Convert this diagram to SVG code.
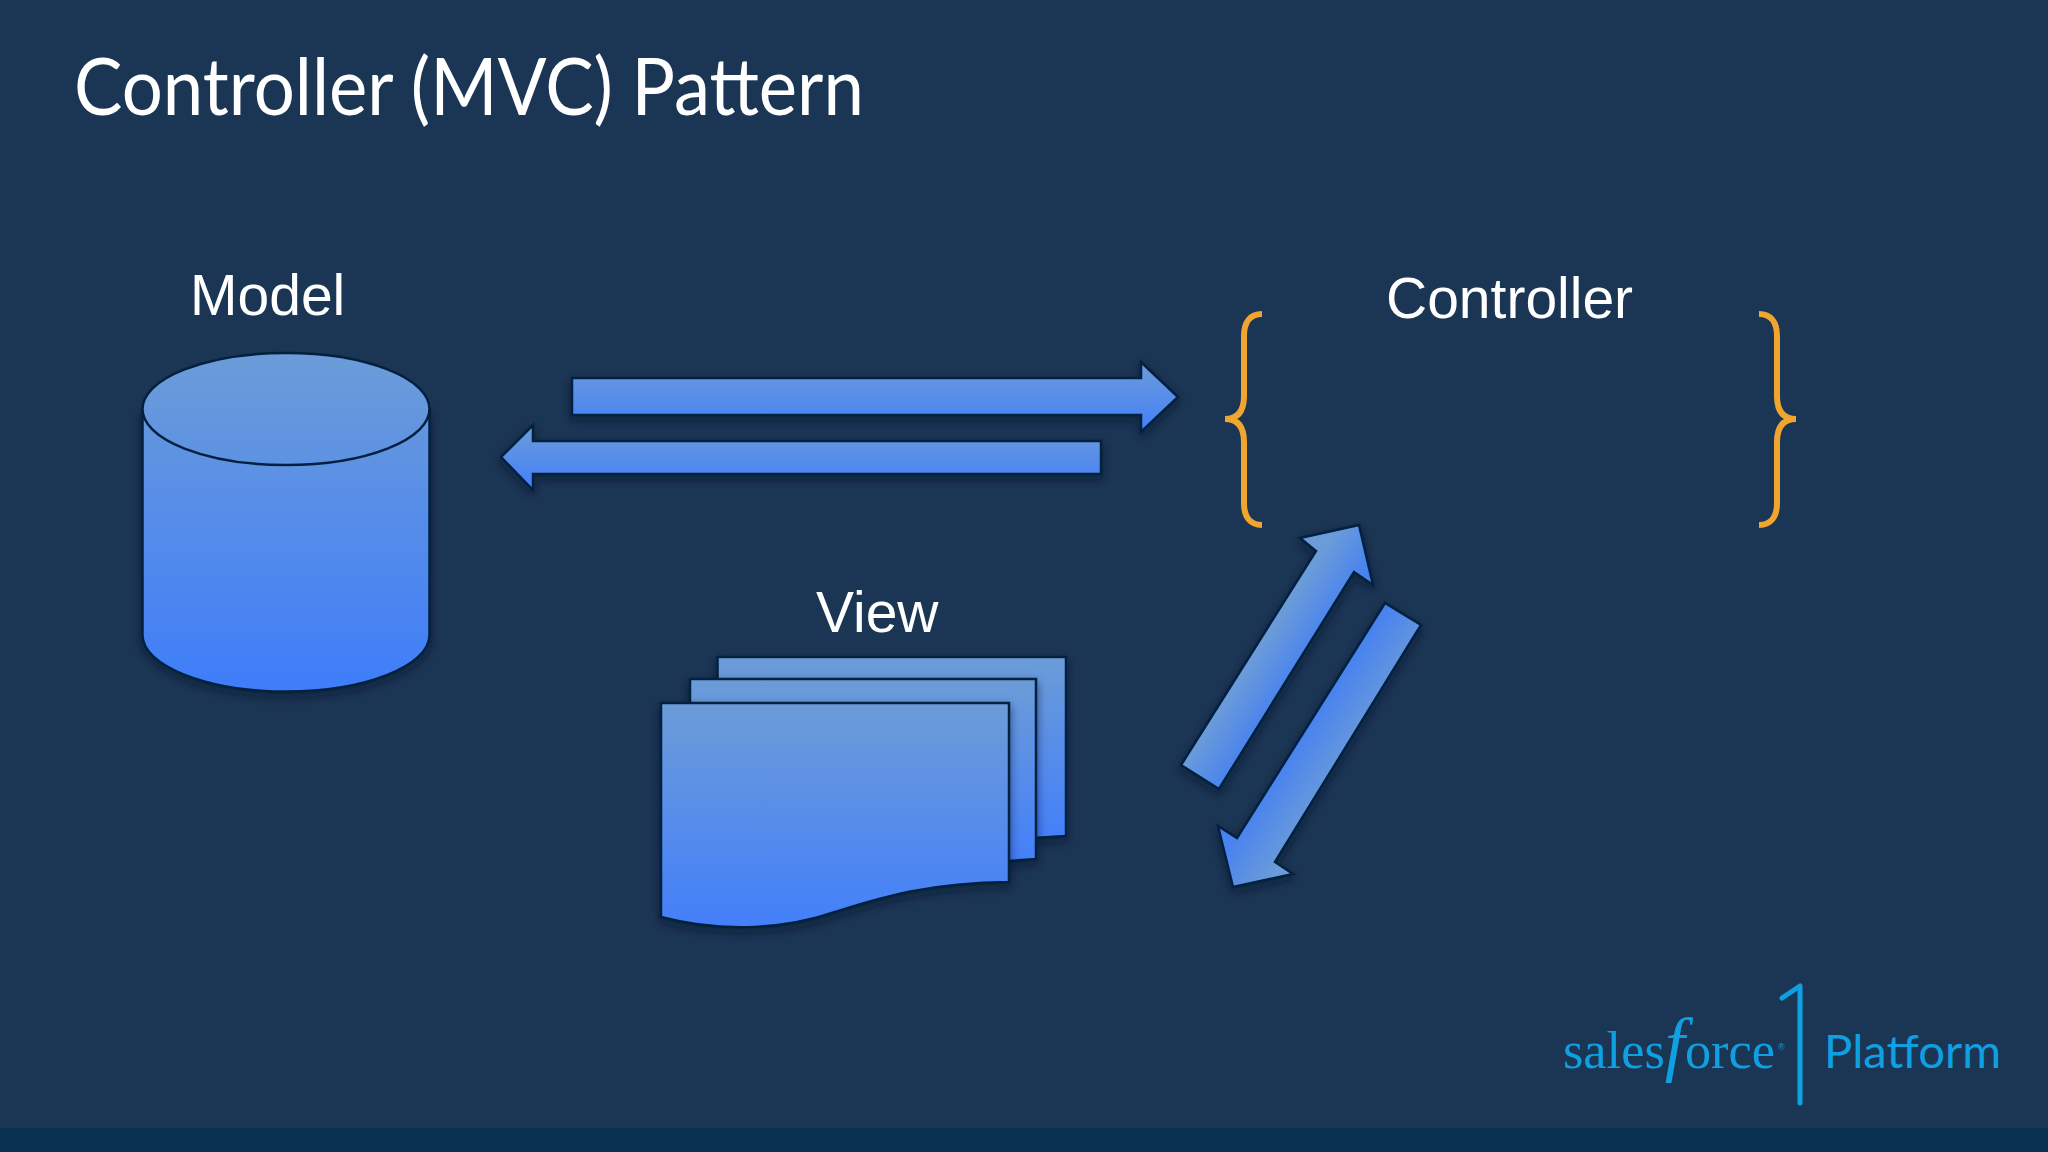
<svg xmlns="http://www.w3.org/2000/svg" width="2048" height="1152" viewBox="0 0 2048 1152">
<defs>
<linearGradient id="g" x1="0" y1="0" x2="0" y2="1"><stop offset="0" stop-color="#6c9cd8"/><stop offset="1" stop-color="#437ffa"/></linearGradient>
<linearGradient id="top" gradientUnits="userSpaceOnUse" x1="0" y1="353" x2="0" y2="691"><stop offset="0" stop-color="#6c9cd8"/><stop offset="1" stop-color="#3f7dfa"/></linearGradient>
<linearGradient id="d1" gradientUnits="userSpaceOnUse" x1="1262" y1="640" x2="1300" y2="665"><stop offset="0" stop-color="#6c9cd8"/><stop offset="1" stop-color="#4a84ee"/></linearGradient>
<linearGradient id="d2" gradientUnits="userSpaceOnUse" x1="1350" y1="765" x2="1305" y2="735"><stop offset="0" stop-color="#6c9cd8"/><stop offset="1" stop-color="#4a84ee"/></linearGradient>
<filter id="s" x="-15%" y="-15%" width="130%" height="130%"><feDropShadow dx="0" dy="4" stdDeviation="5" flood-color="#06182c" flood-opacity=".55"/></filter>
</defs>
<style>
.shape{stroke:#04203f;stroke-width:2.5;filter:url(#s)}
.fill{fill:url(#g)}
.label{font-family:"Liberation Sans",Arial,sans-serif;font-size:57px;fill:#fff}
.brace{fill:none;stroke:#f0a52f;stroke-width:6}
.logo{fill:#0ea0e0}
</style>
<rect width="2048" height="1152" fill="#1b3554"/>
<rect y="1128" width="2048" height="24" fill="#0a3150"/>
<text id="title" x="74" y="115" font-family="Lato,sans-serif" font-weight="400" font-size="79" fill="#fff" textLength="790" lengthAdjust="spacingAndGlyphs">Controller (MVC) Pattern</text>
<g id="model">
<text class="label" x="190" y="315">Model</text>
<path class="shape" fill="url(#top)" d="M142.500 409V635C142.500 666 207 691.500 286 691.500S429.500 666 429.500 635V409Z"/>
<ellipse cx="286" cy="409" rx="143.500" ry="56" fill="url(#top)" stroke="#04203f" stroke-width="2.500"/>
</g>
<g id="view">
<text class="label" x="816" y="632">View</text>
<path class="shape fill" d="M717.500 657H1066V836L1000 840H717.500Z"/>
<path class="shape fill" d="M690 679H1036V859L980 863H690Z"/>
<path class="shape fill" d="M661 703H1009V882C925 883 880 898 835 912C790 928 725 934 661 917Z"/>
</g>
<g id="controller">
<text class="label" x="1386" y="318">Controller</text>
<path class="brace" d="M1262 314C1250 314 1244 322 1244 336V396C1244 410 1239 419 1225 419C1239 419 1244 428 1244 442V503C1244 517 1250 525 1262 525"/>
<path class="brace" d="M1759 314C1771 314 1777 322 1777 336V396C1777 410 1782 419 1796 419C1782 419 1777 428 1777 442V503C1777 517 1771 525 1759 525"/>
</g>
<g id="connectors">
<path class="shape fill" d="M572 378H1141V362L1178 397L1141 432V415H572Z"/>
<path class="shape fill" d="M1101 441H533V425L501 457L533 490V474H1101Z"/>
<path class="shape" fill="url(#d1)" d="M1181 765L1316 551L1300 538L1359 525L1373 585L1354 572L1219 789Z"/>
<path class="shape" fill="url(#d2)" d="M1421 625L1275 862L1293 874L1233 887L1218 826L1237 838L1385 603Z"/>
</g>
<g id="logo">
<text class="logo" x="1563" y="1068" font-family="Liberation Serif,serif" font-size="52" textLength="212" lengthAdjust="spacingAndGlyphs">sales<tspan font-style="italic" font-size="72">f</tspan>orce</text>
<text class="logo" x="1778" y="1050" font-family="Liberation Sans,sans-serif" font-size="9">®</text>
<path d="M1782 998L1800 986V1103" fill="none" stroke="#0ea0e0" stroke-width="5" stroke-linecap="round" stroke-linejoin="round"/>
<text class="logo" x="1824" y="1068" font-family="Lato,sans-serif" font-weight="400" font-size="47" textLength="177" lengthAdjust="spacingAndGlyphs">Platform</text>
</g>
</svg>
